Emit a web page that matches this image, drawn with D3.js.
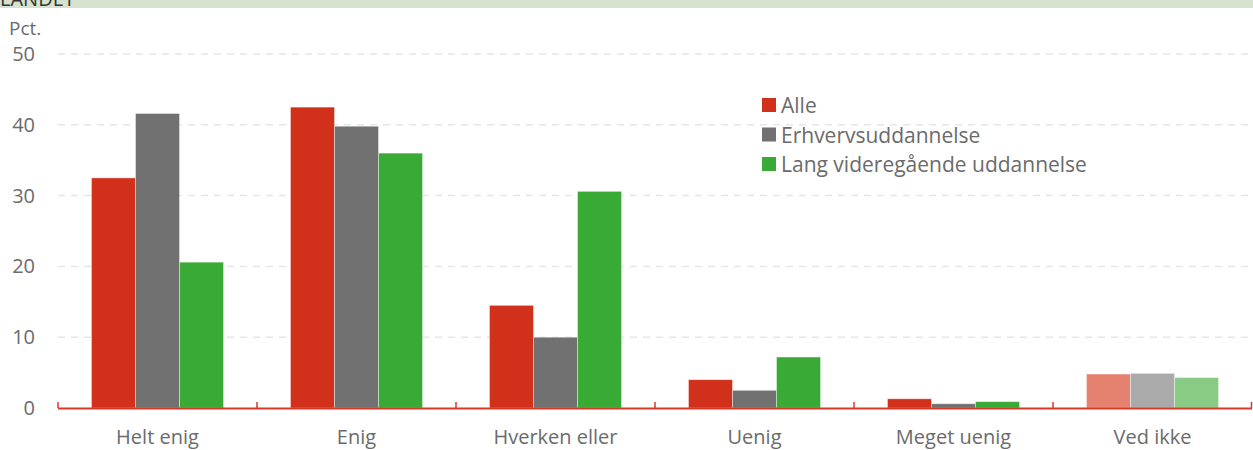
<!DOCTYPE html>
<html>
<head>
<meta charset="utf-8">
<script src="https://cdn.jsdelivr.net/npm/d3@7"></script>
<style>
  body { margin: 0; background: #fff; }
  svg text { font-family: "Open Sans", sans-serif; fill: #6b6b6b; }
</style>
</head>
<body>
<svg id="chart" width="1253" height="450"></svg>
<script>
const categories = ["Helt enig", "Enig", "Hverken eller", "Uenig", "Meget uenig", "Ved ikke"];
const seriesNames = ["Alle", "Erhvervsuddannelse", "Lang videregående uddannelse"];
const alle = [32.5, 42.5, 14.5, 4.0, 1.3, 4.8];
const erhverv = [41.6, 39.8, 10.0, 2.5, 0.6, 4.9];
const lang = [20.6, 36.0, 30.6, 7.2, 0.9, 4.3];
const yTicks = [0, 10, 20, 30, 40, 50];

const colors = ["#d1301a", "#717171", "#3aaa36"];
const lightColors = ["#e5826f", "#aaaaaa", "#89cb84"];

const svg = d3.select("#chart");
const margin = { top: 54, right: 1, bottom: 42, left: 58 };
const width = 1253, height = 450;

// top band
svg.append("rect").attr("x", 0).attr("y", 0).attr("width", width).attr("height", 8).attr("fill", "#d6e2cf");
svg.append("clipPath").attr("id", "band").append("rect").attr("width", width).attr("height", 8);
svg.append("text").attr("x", 0).attr("y", 6).attr("clip-path", "url(#band)")
  .style("font-size", "20px").style("fill", "#333").text("LANDET");

const x = d3.scaleBand().domain(categories).range([margin.left, width - margin.right]).paddingInner(0).paddingOuter(0);
const y = d3.scaleLinear().domain([0, 50]).range([408, 54]);
const inner = d3.scaleBand().domain(seriesNames).range([0, x.bandwidth()]).paddingInner(0).paddingOuter(0.76);

// gridlines
svg.append("g").selectAll("line").data(yTicks.filter(d => d > 0)).join("line")
  .attr("x1", margin.left).attr("x2", width)
  .attr("y1", d => y(d)).attr("y2", d => y(d))
  .attr("stroke", "#e6e6e6").attr("stroke-width", 1.5).attr("stroke-dasharray", "7,6");

// y labels
svg.append("g").selectAll("text").data(yTicks).join("text")
  .attr("x", 35).attr("y", d => y(d) + 7)
  .attr("text-anchor", "end").style("font-size", "20px").text(d => d);
svg.append("text").attr("x", 9).attr("y", 35).style("font-size", "19px").text("Pct.");

// bars
const data = [alle, erhverv, lang];
const groups = svg.append("g").selectAll("g").data(categories).join("g")
  .attr("transform", d => `translate(${x(d)},0)`);
groups.selectAll("rect")
  .data((c, i) => seriesNames.map((s, j) => ({ s, j, v: data[j][i], last: i === categories.length - 1 })))
  .join("rect")
  .attr("x", d => inner(d.s))
  .attr("width", inner.bandwidth())
  .attr("y", d => y(d.v))
  .attr("height", d => y(0) - y(d.v))
  .attr("fill", d => d.last ? lightColors[d.j] : colors[d.j])
  .attr("stroke", "rgba(255,255,255,0.5)").attr("stroke-width", 0.8);

// x axis
const xAxis = svg.append("g");
xAxis.append("line").attr("x1", margin.left).attr("x2", width - margin.right)
  .attr("y1", 408.5).attr("y2", 408.5).attr("stroke", "#d63a26").attr("stroke-width", 2);
const bounds = categories.map(c => x(c)).concat([x(categories[categories.length - 1]) + x.bandwidth() - 0.5]);
xAxis.selectAll(".tk").data(bounds).join("line").attr("class", "tk")
  .attr("x1", d => d).attr("x2", d => d).attr("y1", 408).attr("y2", 402)
  .attr("stroke", "#d63a26").attr("stroke-width", 1.5);
xAxis.selectAll("text").data(categories).join("text")
  .attr("x", d => x(d) + x.bandwidth() / 2).attr("y", 444)
  .attr("text-anchor", "middle").style("font-size", "20px").text(d => d);

// legend
const legend = svg.append("g").attr("transform", "translate(762,98)");
const li = legend.selectAll("g").data(seriesNames).join("g")
  .attr("transform", (d, i) => `translate(0,${i * 29.5})`);
li.append("rect").attr("width", 14).attr("height", 14).attr("fill", (d, i) => colors[i]);
li.append("text").attr("x", 19).attr("y", 15).style("font-size", "21px").text(d => d);
</script>
</body>
</html>
